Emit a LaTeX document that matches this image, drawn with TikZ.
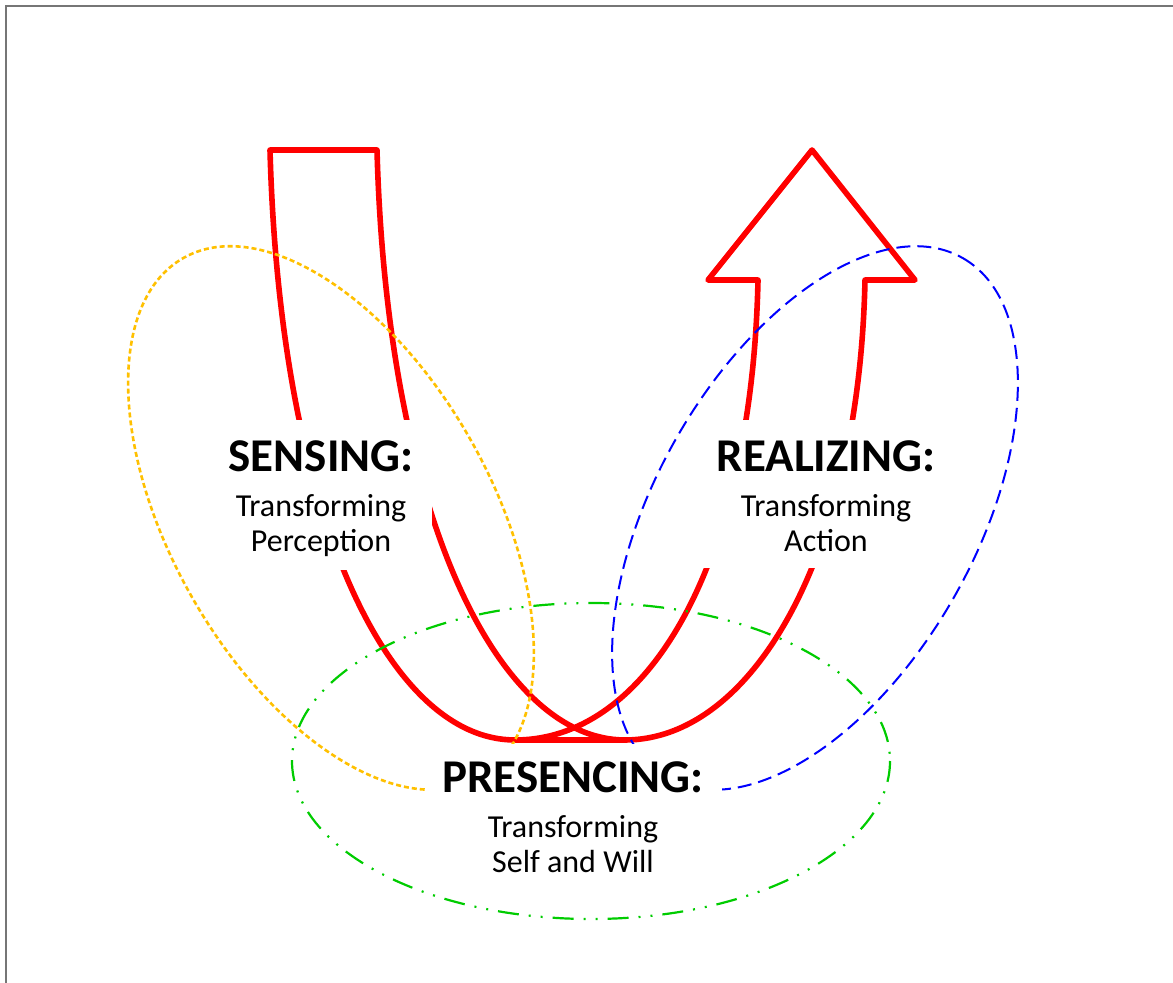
\documentclass[tikz,border=0pt]{standalone}
\usepackage{fontspec}
\setmainfont{Carlito}
\definecolor{framegray}{RGB}{118,118,118}
\definecolor{ugold}{RGB}{255,192,0}
\definecolor{ublue}{RGB}{0,0,255}
\definecolor{ugreen}{RGB}{0,204,0}
\begin{document}
\begin{tikzpicture}[x=0.5pt,y=-0.5pt,
  ushape/.style={draw=red,line width=2.8pt,line join=round},
  sensring/.style={draw=ugold,line width=1.3pt,dash pattern=on 2.5pt off 1.5pt},
  realring/.style={draw=ublue,line width=1pt,dash pattern=on 7pt off 3.5pt},
  presring/.style={draw=ugreen,line width=1.1pt,dash pattern=on 10.5pt off 5pt on 1pt off 5pt on 1pt off 5pt},
  heading/.style={anchor=base,inner sep=0pt,font=\fontsize{23.5}{28}\selectfont\bfseries},
  subline/.style={anchor=base,inner sep=0pt,font=\fontsize{16}{19}\selectfont}]
\useasboundingbox (0,0) rectangle (1173,983);
% page frame (left and top edges)
\draw[framegray,line width=1pt] (6,983) -- (6,6) -- (1173,6);

% the U-shaped arrow
\draw[ushape] (515,740) -- (625,740)
  .. controls (750,740) and (859,560) .. (865,280)
  -- (915,280) -- (812,150) -- (708,280) -- (758,280)
  .. controls (752,560) and (650,740) .. (515,740)
  .. controls (390,740) and (280,520) .. (270,150)
  -- (377,150)
  .. controls (387,520) and (500,740) .. (625,740);

% the three rings
\draw[sensring,rotate around={-60.4:(331,518)}] (331,518) ellipse [x radius=299,y radius=160];
\draw[realring,rotate around={60.4:(815,518)}] (815,518) ellipse [x radius=299,y radius=160];
\draw[presring] (591,761) ellipse [x radius=299,y radius=158];

% white panels behind the labels
\fill[white] (210,420) rectangle (432,570);
\fill[white] (700,420) rectangle (952,568);
\fill[white] (425,744) rectangle (722,885);

% labels
\node[heading] (sensH) at (321,472) {SENSING:};
\node[subline] (sensA) at (321,517) {Transforming};
\node[subline] (sensB) at (321,552) {Perception};

\node[heading] (realH) at (826,472) {REALIZING:};
\node[subline] (realA) at (826,517) {Transforming};
\node[subline] (realB) at (826,552) {Action};

\node[heading] (presH) at (573,792) {PRESENCING:};
\node[subline] (presA) at (573,837) {Transforming};
\node[subline] (presB) at (573,872) {Self and Will};
\end{tikzpicture}
\end{document}
